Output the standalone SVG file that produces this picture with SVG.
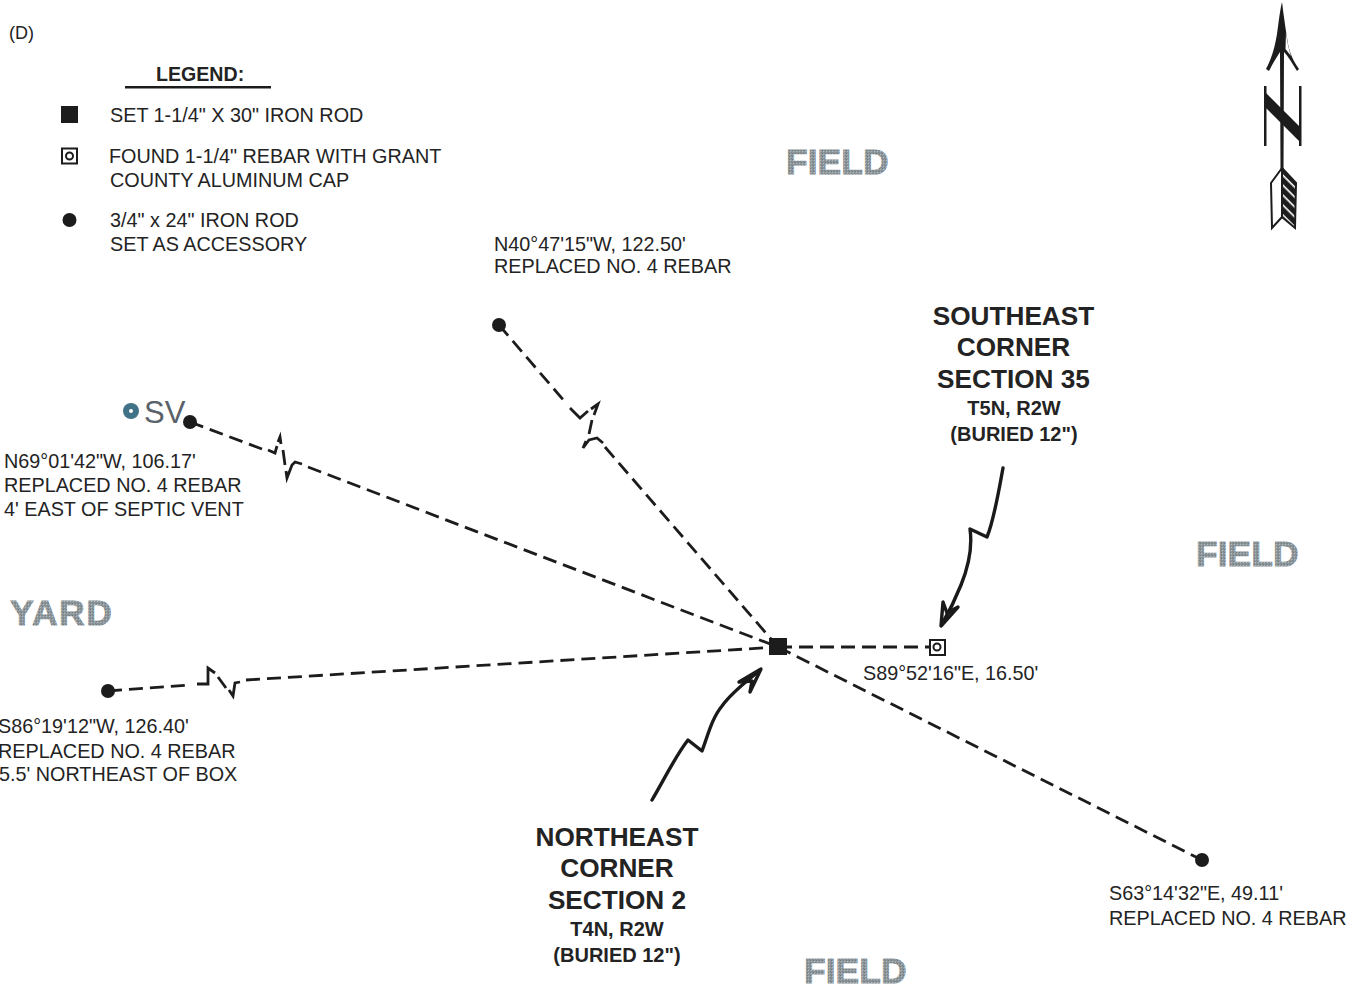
<svg xmlns="http://www.w3.org/2000/svg" width="1364" height="995" viewBox="0 0 1364 995">
<style>
text{font-family:"Liberation Sans",Arial,sans-serif;fill:#232323}
.t{font-size:19.800px}
.b{font-weight:700;text-anchor:middle}
.l{font-size:26.200px}
.s{font-size:20px}
.f{font-size:35.500px;font-weight:700;fill:url(#dither);stroke:url(#dither);stroke-width:0.800}
.dash{fill:none;stroke:#1c1c1c;stroke-width:2.800;stroke-dasharray:14 7}
.solid{fill:none;stroke:#1c1c1c;stroke-width:2.800;stroke-linejoin:miter}
.pen{fill:none;stroke:#1a1a1a;stroke-width:3.400;stroke-linejoin:round;stroke-linecap:round}
.ink{fill:#1c1c1c}
</style>
<defs>
<pattern id="dither" width="3" height="3" patternUnits="userSpaceOnUse">
<rect width="3" height="3" fill="#8f979b"/>
<rect width="1" height="1" fill="#6f7a7f"/>
<rect x="1" y="1" width="1" height="1" fill="#a9bcc4"/>
<rect x="2" y="2" width="1" height="1" fill="#7f888c"/>
</pattern>
<pattern id="hatch" width="7" height="7" patternUnits="userSpaceOnUse" patternTransform="rotate(45)">
<rect width="7" height="7" fill="#1c1c1c"/>
<rect width="7" height="1.600" fill="#fff"/>
</pattern>
</defs>
<rect width="1364" height="995" fill="#fff"/>

<g id="connectors">
<path class="dash" d="M499 325L566 403"/>
<path class="solid" d="M570 408L580 418L588 411M591 409L598 404L594 415M592 420L589 434M586 441L583 448L589 440L597 438L603 443"/>
<path class="dash" d="M605 447L778 647"/>
<path class="dash" d="M190 422L262 449"/>
<path class="solid" d="M268 450L275 453L277 446M278 442L280 437L281 444M283 450L285 465M286 471L287 478L292 465L295 462L302 464"/>
<path class="dash" d="M308 467L778 647"/>
<path class="dash" d="M108 691L190 685"/>
<path class="solid" d="M197 684L208 684L208 668L215 673M218 677L226 688M229 690L233 696L235 683L240 682"/>
<path class="dash" d="M246 680L778 647"/>
<path class="dash" d="M778 647L930 647"/>
<path class="dash" d="M778 647L1202 860"/>
<path class="pen" d="M652 800C665 778 676 755 688 740L702 751C708 735 712 718 722 706C732 692 746 682 759 671"/>
<path class="pen" d="M739 682L761 669L750 692L752 681Z"/>
<path class="pen" d="M1003 468C998 495 994 520 987 537L970 529C973 550 967 570 961 585C955 600 949 612 942 624"/>
<path class="pen" d="M943 602L941 626L958 607L947 613Z"/>
</g>

<g id="legend">
<text x="156" y="81" style="font-size:19.600px;font-weight:700">LEGEND:</text>
<rect x="125" y="86" width="146" height="2.500" class="ink"/>
<rect x="61" y="106" width="17" height="17" class="ink"/>
<rect x="62" y="148.500" width="15" height="15" fill="#fff" stroke="#1c1c1c" stroke-width="2"/>
<circle cx="69.500" cy="156" r="3.500" fill="#fff" stroke="#1c1c1c" stroke-width="2"/>
<circle cx="69.500" cy="220" r="7" class="ink"/>
<text x="110" y="122" class="t">SET 1-1/4" X 30" IRON ROD</text>
<text x="109" y="163" class="t">FOUND 1-1/4" REBAR WITH GRANT</text>
<text x="110" y="187" class="t">COUNTY ALUMINUM CAP</text>
<text x="110" y="227" class="t">3/4" x 24" IRON ROD</text>
<text x="110" y="251" class="t">SET AS ACCESSORY</text>
</g>

<text x="9" y="39" style="font-size:18px">(D)</text>

<g id="north-arrow">
<path class="ink" d="M1282 2C1284 18 1286 32 1288 44C1290 54 1294 62 1299 69L1297 71C1292 63 1288 56 1284 52L1283.500 170H1280.500L1280 52C1276 58 1272 65 1269 71L1266 69C1272 58 1275 46 1277 34C1279 20 1280 10 1282 2Z"/>
<path d="M1286 32C1287 42 1289 50 1291 56L1285.500 49Z" fill="#fff"/>
<rect x="1264" y="86" width="2.500" height="60" class="ink"/>
<rect x="1299" y="86" width="2.500" height="60" class="ink"/>
<path class="ink" d="M1265 92L1265 107L1300 142L1300 127Z"/>
<path d="M1282 168L1271 183L1272 228L1282 217Z" fill="#fff" stroke="#1c1c1c" stroke-width="2"/>
<path d="M1282 168L1296 183L1295 228L1282 217Z" fill="url(#hatch)" stroke="#1c1c1c" stroke-width="2"/>
</g>

<g id="node-n40">
<circle cx="499" cy="325" r="7" class="ink"/>
<text x="494" y="251" class="t">N40°47'15"W, 122.50'</text>
<text x="494" y="273" class="t">REPLACED NO. 4 REBAR</text>
</g>
<g id="node-n69">
<circle cx="190" cy="422" r="7" class="ink"/>
<text x="4" y="468" class="t">N69°01'42"W, 106.17'</text>
<text x="4" y="492" class="t">REPLACED NO. 4 REBAR</text>
<text x="4" y="516" class="t">4' EAST OF SEPTIC VENT</text>
</g>
<g id="septic-vent">
<circle cx="131" cy="411" r="8" fill="#3f7385"/>
<circle cx="131" cy="411" r="2" fill="#fff"/>
<text x="144" y="423" style="font-size:31px;fill:#5a626a">SV</text>
</g>
<g id="node-s86">
<circle cx="108" cy="691" r="7" class="ink"/>
<text x="-2" y="733" class="t">S86°19'12"W, 126.40'</text>
<text x="-2" y="758" class="t">REPLACED NO. 4 REBAR</text>
<text x="-1" y="781" class="t">5.5' NORTHEAST OF BOX</text>
</g>
<g id="node-s63">
<circle cx="1202" cy="860" r="7" class="ink"/>
<text x="1109" y="900" class="t">S63°14'32"E, 49.11'</text>
<text x="1109" y="925" class="t">REPLACED NO. 4 REBAR</text>
</g>
<g id="node-northeast-corner">
<rect x="769" y="638" width="18" height="17" class="ink"/>
<text x="617" y="846" class="b l">NORTHEAST</text>
<text x="617" y="877" class="b l">CORNER</text>
<text x="617" y="909" class="b l">SECTION 2</text>
<text x="617" y="936" class="b s">T4N, R2W</text>
<text x="617" y="962" class="b s">(BURIED 12")</text>
</g>
<g id="node-southeast-corner">
<rect x="930" y="640" width="15" height="15" fill="#fff" stroke="#1c1c1c" stroke-width="2"/>
<circle cx="937" cy="647" r="3.500" fill="#fff" stroke="#1c1c1c" stroke-width="2"/>
<text x="863" y="680" class="t">S89°52'16"E, 16.50'</text>
<text x="1013.500" y="325" class="b l">SOUTHEAST</text>
<text x="1013.500" y="356" class="b l">CORNER</text>
<text x="1013.500" y="388" class="b l">SECTION 35</text>
<text x="1014" y="415" class="b s">T5N, R2W</text>
<text x="1014" y="441" class="b s">(BURIED 12")</text>
</g>

<text x="786" y="174" class="f">FIELD</text>
<text x="1196" y="566" class="f">FIELD</text>
<text x="804" y="983" class="f">FIELD</text>
<text x="10" y="625" class="f" style="letter-spacing:1.500px">YARD</text>
</svg>
